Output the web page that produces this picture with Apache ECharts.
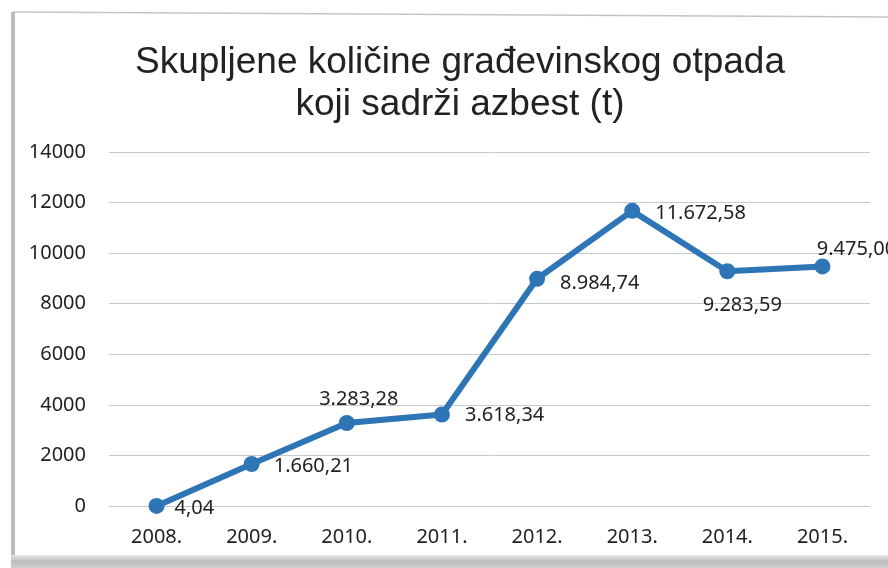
<!DOCTYPE html>
<html><head><meta charset="utf-8">
<script src="https://cdn.jsdelivr.net/npm/echarts@6/dist/echarts.min.js"></script>
<style>html,body{margin:0;padding:0;background:#fff}#c{width:888px;height:568px}</style>
</head><body><div id="c"></div>
<script>
const categories = ['2008.','2009.','2010.','2011.','2012.','2013.','2014.','2015.'];
const values = [4.04, 1660.21, 3283.28, 3618.34, 8984.74, 11672.58, 9283.59, 9475.00];
const labelTexts = ['4,04','1.660,21','3.283,28','3.618,34','8.984,74','11.672,58','9.283,59','9.475,00'];
const yTicks = [0, 2000, 4000, 6000, 8000, 10000, 12000, 14000];

const labelPlacement = [
  {position:'right', offset:[5,2]},
  {position:'right', offset:[9,2]},
  {position:'top', offset:[12,-1]},
  {position:'right', offset:[10,1]},
  {position:'right', offset:[10,4]},
  {position:'right', offset:[10,2]},
  {position:'bottom', offset:[15,11]},
  {position:'top', offset:[34,6]}
];

const chart = echarts.init(document.getElementById('c'));
chart.setOption({
  backgroundColor:'#fff',
  animation:false,
  title:{
    text:'Skupljene količine građevinskog otpada\nkoji sadrži azbest (t)',
    left:455, textAlign:'center', top:37,
    textStyle:{fontFamily:'Liberation Sans, Arial', fontSize:37, fontWeight:'normal', color:'#222', lineHeight:42}
  },
  graphic:[
    {type:'line', shape:{x1:13,y1:12,x2:888,y2:17}, style:{stroke:'#c4c4c4', lineWidth:1.5}, silent:true},
    {type:'rect', shape:{x:11,y:12,width:4,height:546}, style:{fill:'#bdbdbd'}, silent:true},
    {type:'rect', shape:{x:11,y:555,width:877,height:13},
      style:{fill:new echarts.graphic.LinearGradient(0,0,0,1,[{offset:0,color:'#e6e6e6'},{offset:0.5,color:'#bdbdbd'},{offset:1,color:'#d0d0d0'}])}, silent:true}
  ],
  grid:{left:109, right:18, top:152, bottom:62},
  xAxis:{
    type:'category', data:categories, boundaryGap:true,
    axisLine:{show:true, lineStyle:{color:'#c4cbd0', width:1}},
    axisTick:{show:false},
    axisLabel:{margin:21, fontFamily:'Noto Sans, Liberation Sans', fontSize:20, color:'#222'}
  },
  yAxis:{
    type:'value', min:0, max:14000, interval:2000,
    axisLine:{show:false}, axisTick:{show:false},
    splitLine:{lineStyle:{color:'#c4cbd0', width:1}},
    axisLabel:{margin:23, fontFamily:'Noto Sans, Liberation Sans', fontSize:20, color:'#222',
      formatter:function(v){return yTicks.indexOf(v)>=0 ? String(v) : '';}}
  },
  series:[{
    type:'line', data:values.map((v,i)=>({value:v, label:Object.assign({show:true, formatter:labelTexts[i]}, labelPlacement[i])})),
    lineStyle:{color:'#2e75b6', width:6},
    itemStyle:{color:'#2e75b6'},
    symbol:'circle', symbolSize:16,
    label:{show:true, fontFamily:'Noto Sans, Liberation Sans', fontSize:20, color:'#222'}
  }]
});
</script></body></html>
